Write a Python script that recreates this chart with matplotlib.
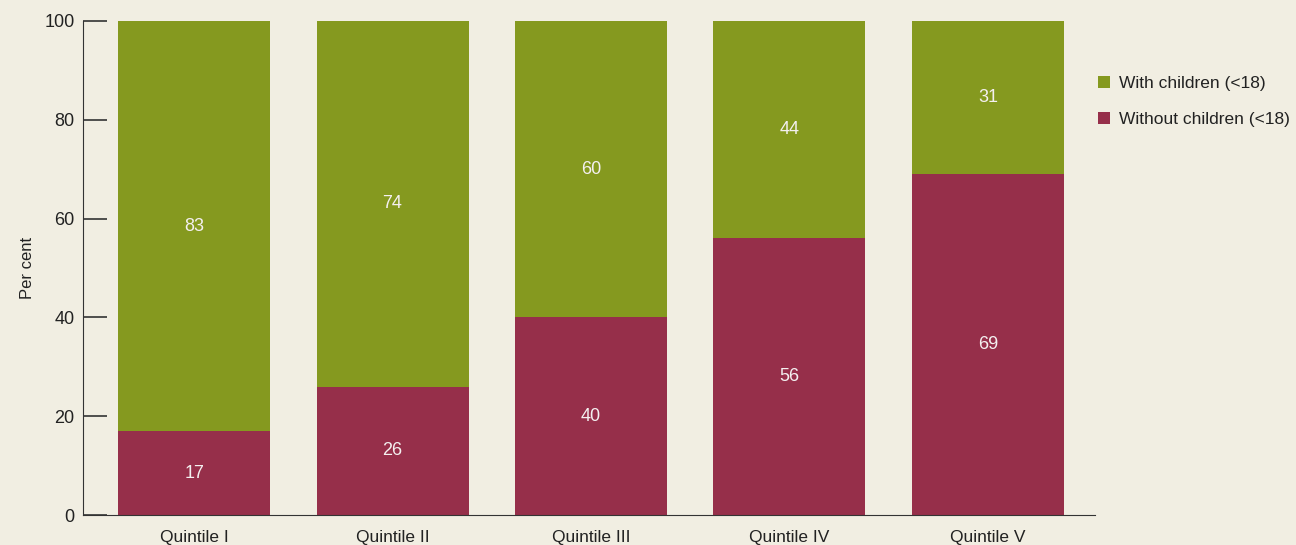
import numpy as np
import matplotlib.pyplot as plt

plt.rcParams['font.family'] = ['Liberation Sans', 'DejaVu Sans']

# Data
quintiles = ["Quintile I", "Quintile II", "Quintile III", "Quintile IV", "Quintile V"]
without_children = [17, 26, 40, 56, 69]
with_children = [83, 74, 60, 44, 31]

bg = "#f1eee2"
green = "#85991f"
maroon = "#962f4a"
text_col = "#222222"

fig = plt.figure(figsize=(12.96, 5.45), dpi=100, facecolor=bg)
ax = fig.add_axes([0.064, 0.055, 0.781, 0.9065], facecolor=bg)

x = np.arange(len(quintiles))
width = 0.766
b1 = ax.bar(x, without_children, width, color=maroon, label="Without children (<18)")
b2 = ax.bar(x, with_children, width, bottom=without_children, color=green, label="With children (<18)")

# Value labels in the middle of each segment
for xi, lo, hi in zip(x, without_children, with_children):
    ax.text(xi, lo / 2, str(lo), ha="center", va="center", color="#f4f0f0", fontsize=13)
    ax.text(xi, lo + hi / 2, str(hi), ha="center", va="center", color="#f4f0f0", fontsize=13)

ax.set_xlim(-0.56, 4.54)
ax.set_ylim(0, 100)
ax.set_yticks([0, 20, 40, 60, 80, 100])
ax.set_xticks(x)
ax.set_xticklabels(quintiles)
ax.set_ylabel("Per cent", fontsize=12, color=text_col, labelpad=7)

for s in ["top", "right"]:
    ax.spines[s].set_visible(False)
ax.spines["left"].set_color("#333333")
ax.spines["bottom"].set_color("#333333")
ax.tick_params(axis="y", direction="in", length=17, width=1.2, color="#333333",
               labelsize=13, labelcolor=text_col, pad=6)
ax.tick_params(axis="x", length=0, labelsize=12.5, labelcolor=text_col, pad=11)

handles = [b2, b1]
leg = fig.legend(handles, [h.get_label() for h in handles], loc="upper left",
                 bbox_to_anchor=(0.835, 0.89), frameon=False, fontsize=12.5,
                 handlelength=0.7, handleheight=0.7, handletextpad=0.55,
                 labelspacing=1.2, labelcolor=text_col)

fig.savefig("out.png", dpi=100, facecolor=bg)
plt.close()
